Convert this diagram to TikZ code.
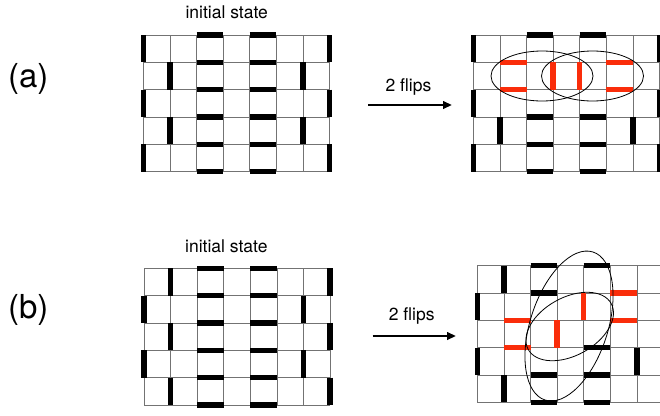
\documentclass[tikz,border=0pt]{standalone}
\usepackage{fontspec}
\setmainfont{TeX Gyre Heros}
\usetikzlibrary{arrows.meta}

\definecolor{flipred}{RGB}{250,45,10}

\begin{document}
\begin{tikzpicture}[x=1pt,y=-1pt,
  lattice/.style={line width=.7pt,black!55},
  dimer/.style={line width=5.5pt,black},
  flipped/.style={line width=5.5pt,flipred},
  cluster/.style={line width=.8pt,black},
  flips/.style={line width=2.2pt,-{Triangle[length=9pt,width=7.5pt]}},
  textlabel/.style={font=\fontsize{17.5}{20}\selectfont,anchor=base,inner sep=0pt},
  panellabel/.style={font=\fontsize{33}{38}\selectfont,anchor=base,inner sep=0pt},
  cellunits/.style={x=26.6pt,y=-27.33pt}]
\useasboundingbox (0,0) rectangle (660,415);

% (a) initial state
\begin{scope}[shift={(143.3,35)},cellunits]
  \foreach \i in {0,...,7} \draw[lattice] (\i,0) -- (\i,5);
  \foreach \j in {0,...,5} \draw[lattice] (0,\j) -- (7,\j);
  \foreach \c in {2,4} \foreach \l in {0,...,5} \draw[dimer] (\c,\l) -- ++(1,0);
  \foreach \l/\r in {0/0,7/0,1/1,6/1,0/2,7/2,1/3,6/3,0/4,7/4} \draw[dimer] (\l,\r) -- ++(0,1);
\end{scope}

% (a) after
\begin{scope}[shift={(473.3,35)},cellunits]
  \foreach \i in {0,...,7} \draw[lattice] (\i,0) -- (\i,5);
  \foreach \j in {0,...,5} \draw[lattice] (0,\j) -- (7,\j);
  \foreach \c in {2,4} \foreach \l in {0,3,4,5} \draw[dimer] (\c,\l) -- ++(1,0);
  \foreach \l/\r in {0/0,7/0,0/2,7/2,1/3,6/3,0/4,7/4} \draw[dimer] (\l,\r) -- ++(0,1);
  \foreach \c in {1,5} \foreach \l in {1,2} \draw[flipped] (\c,\l) -- ++(1,0);
  \foreach \l/\r in {3/1,4/1} \draw[flipped] (\l,\r) -- ++(0,1);
\end{scope}
\draw[cluster] (542,76) ellipse [x radius=51, y radius=25];
\draw[cluster] (592.5,76) ellipse [x radius=51, y radius=25];

% (b) initial state
\begin{scope}[shift={(144,268.3)},cellunits]
  \foreach \i in {0,...,7} \draw[lattice] (\i,0) -- (\i,5);
  \foreach \j in {0,...,5} \draw[lattice] (0,\j) -- (7,\j);
  \foreach \c in {2,4} \foreach \l in {0,...,5} \draw[dimer] (\c,\l) -- ++(1,0);
  \foreach \l/\r in {1/0,7/0,0/1,6/1,1/2,7/2,0/3,6/3,1/4,7/4} \draw[dimer] (\l,\r) -- ++(0,1);
\end{scope}

% (b) after
\begin{scope}[shift={(477.3,265.7)},cellunits]
  \foreach \i in {0,...,7} \draw[lattice] (\i,0) -- (\i,5);
  \foreach \j in {0,...,5} \draw[lattice] (0,\j) -- (7,\j);
  \foreach \c/\l in {2/0,2/1,2/4,2/5,4/0,4/3,4/4,4/5} \draw[dimer] (\c,\l) -- ++(1,0);
  \foreach \l/\r in {1/0,7/0,0/1,7/2,0/3,6/3,1/4,7/4} \draw[dimer] (\l,\r) -- ++(0,1);
  \foreach \c/\l in {5/1,5/2,1/2,1/3} \draw[flipped] (\c,\l) -- ++(1,0);
  \foreach \l/\r in {4/1,3/2} \draw[flipped] (\l,\r) -- ++(0,1);
\end{scope}
\draw[cluster,rotate around={72:(569,326)}] (569,326) ellipse [x radius=77.8, y radius=38.8];
\draw[cluster,rotate around={29:(569.7,326.5)}] (569.7,326.5) ellipse [x radius=47.4, y radius=29];

% labels and arrows
\node (alabel) [panellabel] at (28.3,87) {(a)};
\node (blabel) [panellabel] at (28.3,318) {(b)};
\node (astate) [textlabel] at (226.7,18.3) {initial state};
\node (bstate) [textlabel] at (226.3,252) {initial state};

\coordinate (aflip0) at (368.3,105);
\coordinate (aflip1) at (452,105);
\coordinate (bflip0) at (372.7,336);
\coordinate (bflip1) at (456,336);
\node (aflips) [textlabel] at (408.5,91.7) {2 flips};
\node (bflips) [textlabel] at (411.7,320.7) {2 flips};
\draw[flips] (aflip0) -- (aflip1);
\draw[flips] (bflip0) -- (bflip1);
\end{tikzpicture}
\end{document}
